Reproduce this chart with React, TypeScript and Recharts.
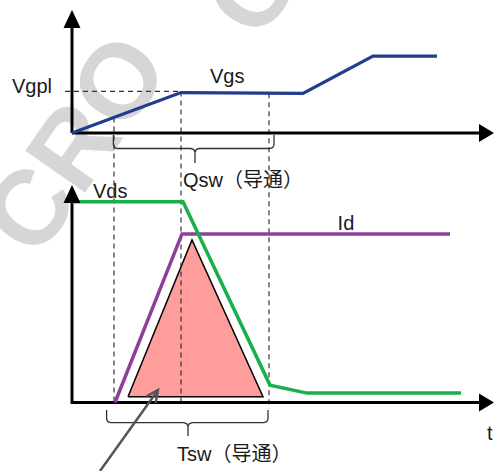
import React from 'react';
import { ComposedChart, Line, Area, XAxis, YAxis, ReferenceLine, ReferenceDot } from 'recharts';

// ---- data (time units, gate volts, drain units) ----
const VGS_T = [0, 5.45, 11.55, 15.05, 18.25];
const VGS_V = [0, 5.05, 4.95, 9.6, 9.6];
const VDS_T = [0, 5.55, 9.9, 11.75, 19.45];
const VDS_V = [10.04, 10.04, 0.87, 0.47, 0.47];
const ID_T = [2.15, 5.5, 18.9];
const ID_V = [0, 8.43, 8.43];
const LOSS_T = [2.8, 6.0, 9.55];
const LOSS_V = [0.29, 8.13, 0.29];
const MARK_T = [2.1, 5.45, 9.85];
const MARK_BOTTOM = [0, 0, -0.3];
const VGPL = 5.2;

// ---- chart geometry ----
const W = 494;
const H = 471;
const X_DOMAIN = [-3.6, 21.1];
const VG_DOMAIN = [-42.25, 16.625];
const VD_DOMAIN = [-3.425, 20.125];

const FONT = "'Liberation Sans', Arial, 'Noto Sans CJK SC', sans-serif";
const C_VGS = '#223c8e';
const C_VDS = '#19b04b';
const C_ID = '#8e3f9e';
const C_LOSS = '#ff9c9c';
const C_DASH = '#333333';

const zip = (xs: number[], ys: number[]) => xs.map((x, i) => ({ x, y: ys[i] }));
const vgsData = zip(VGS_T, VGS_V);
const vdsData = zip(VDS_T, VDS_V);
const idData = zip(ID_T, ID_V);
const lossData = zip(LOSS_T, LOSS_V);
const lossOutline = [...lossData, lossData[0]];

const interp = (xs: number[], ys: number[], t: number) => {
  for (let i = 0; i < xs.length - 1; i++) {
    if (t >= xs[i] && t <= xs[i + 1]) {
      return ys[i] + ((ys[i + 1] - ys[i]) * (t - xs[i])) / (xs[i + 1] - xs[i]);
    }
  }
  return ys[ys.length - 1];
};
// convert a value on the drain axis into gate-axis units (same pixel row)
const vdToVg = (vd: number) =>
  VG_DOMAIN[1] - ((VD_DOMAIN[1] - vd) / (VD_DOMAIN[1] - VD_DOMAIN[0])) * (VG_DOMAIN[1] - VG_DOMAIN[0]);

// curly brace built in data units
const brace = (t0: number, t1: number, tc: number, yTop: number, yH: number, yStem: number, rx: number, ry: number) => {
  const left = [
    { x: t0, y: yTop },
    { x: t0, y: yH + ry },
    { x: t0 + rx * 0.3, y: yH + ry * 0.3 },
    { x: t0 + rx, y: yH },
    { x: tc - rx, y: yH },
    { x: tc - rx * 0.3, y: yH - ry * 0.3 },
    { x: tc, y: yH - ry },
    { x: tc, y: yStem },
  ];
  const right = [
    { x: t1, y: yTop },
    { x: t1, y: yH + ry },
    { x: t1 - rx * 0.3, y: yH + ry * 0.3 },
    { x: t1 - rx, y: yH },
    { x: tc + rx, y: yH },
    { x: tc + rx * 0.3, y: yH - ry * 0.3 },
    { x: tc, y: yH - ry },
  ];
  return { left, right };
};
const braceTop = brace(2.07, 10.1, 6.15, -0.25, -1.94, -3.75, 0.2, 0.45);
const braceBot = brace(1.73, 9.8, 5.8, -0.375, -1.01, -1.675, 0.2, 0.18);

const upArrow = (p: any) => (
  <polygon points={`${p.cx},${p.cy} ${p.cx - 8.5},${p.cy + 18} ${p.cx + 8.5},${p.cy + 18}`} fill="#000" />
);
const rightArrow = (p: any) => (
  <polygon points={`${p.cx},${p.cy} ${p.cx - 15},${p.cy - 9} ${p.cx - 15},${p.cy + 9}`} fill="#000" />
);
const pointerHead = (p: any) => {
  const ang = Math.atan2(80, -58); // direction from tip back to tail (screen)
  const len = 13;
  const a1 = ang + 0.45;
  const a2 = ang - 0.45;
  return (
    <polyline
      points={`${p.cx + len * Math.cos(a1)},${p.cy + len * Math.sin(a1)} ${p.cx},${p.cy} ${p.cx + len * Math.cos(a2)},${p.cy + len * Math.sin(a2)}`}
      fill="none"
      stroke="#555"
      strokeWidth={2.5}
    />
  );
};
const textShape = (label: string) => (p: any) => (
  <text x={p.cx} y={p.cy} fontSize={20} fontFamily={FONT} fill="#1a1a1a" textAnchor="start">
    {label}
  </text>
);

const TOP_LABELS = [
  { text: 'Vgpl', t: -3.0, v: 4.96 },
  { text: 'Vgs', t: 6.9, v: 6.21 },
  { text: 'Qsw（导通）', t: 5.55, v: -6.75 },
];
const BOT_LABELS = [
  { text: 'Vds', t: 1.05, v: 10.22 },
  { text: 'Id', t: 13.28, v: 8.62 },
  { text: 't', t: 20.75, v: -1.875 },
  { text: 'Tsw（导通）', t: 5.25, v: -2.93 },
];

const lineProps = { type: 'linear' as const, dot: false, activeDot: false, isAnimationActive: false };

export default function App() {
  return (
    <div style={{ position: 'absolute', left: 0, top: 0, width: W, height: H, background: '#fff', overflow: 'hidden' }}>
      <svg width={W} height={H} style={{ position: 'absolute', left: 0, top: 0 }}>
        <text
          x={37}
          y={261}
          transform="rotate(-55 37 261)"
          fontSize={106}
          fontWeight="bold"
          fontFamily={FONT}
          fill="#d6d6d6"
        >
          CRO
        </text>
        <text
          x={0}
          y={0}
          transform="translate(252 -12) rotate(-55)"
          fontSize={106}
          fontWeight="bold"
          fontFamily={FONT}
          fill="#d6d6d6"
          textAnchor="middle"
          dominantBaseline="central"
        >
          O
        </text>
      </svg>
      <div style={{ position: 'absolute', left: 0, top: 0 }}>
        <ComposedChart width={W} height={H} margin={{ top: 0, right: 0, bottom: 0, left: 0 }}>
          <XAxis type="number" dataKey="x" domain={X_DOMAIN} allowDataOverflow hide />
          <YAxis yAxisId="vg" type="number" domain={VG_DOMAIN} allowDataOverflow hide />
          <YAxis yAxisId="vd" type="number" domain={VD_DOMAIN} allowDataOverflow hide />

          {/* switching loss triangle */}
          <Area
            yAxisId="vd"
            data={lossData}
            dataKey="y"
            type="linear"
            baseValue={LOSS_V[0]}
            fill={C_LOSS}
            fillOpacity={1}
            stroke="none"
            dot={false}
            activeDot={false}
            isAnimationActive={false}
          />
          <Line yAxisId="vd" data={lossOutline} dataKey="y" stroke="#000" strokeWidth={1.5} {...lineProps} />

          {/* dashed guides */}
          <ReferenceLine
            yAxisId="vg"
            segment={[{ x: -0.35, y: VGPL }, { x: MARK_T[1], y: VGPL }]}
            stroke={C_DASH}
            strokeWidth={1.2}
            strokeDasharray="5 4"
            ifOverflow="visible"
          />
          {MARK_T.map((t, i) => (
            <ReferenceLine
              key={'m' + i}
              yAxisId="vg"
              segment={[
                { x: t, y: i === 1 ? VGPL : interp(VGS_T, VGS_V, t) },
                { x: t, y: vdToVg(MARK_BOTTOM[i]) },
              ]}
              stroke={C_DASH}
              strokeWidth={1.2}
              strokeDasharray="5 4"
              ifOverflow="visible"
            />
          ))}

          {/* axes */}
          <ReferenceLine yAxisId="vg" segment={[{ x: 0, y: 0 }, { x: 0, y: 14.4 }]} stroke="#000" strokeWidth={3} ifOverflow="visible" />
          <ReferenceLine yAxisId="vg" segment={[{ x: 0, y: 0 }, { x: 20.5, y: 0 }]} stroke="#000" strokeWidth={3} ifOverflow="visible" />
          <ReferenceDot yAxisId="vg" x={0} y={15.375} r={1} shape={upArrow} ifOverflow="visible" />
          <ReferenceDot yAxisId="vg" x={21.1} y={0} r={1} shape={rightArrow} ifOverflow="visible" />
          <ReferenceLine yAxisId="vd" segment={[{ x: 0, y: -0.07 }, { x: 0, y: 10.4 }]} stroke="#000" strokeWidth={3} ifOverflow="visible" />
          <ReferenceLine yAxisId="vd" segment={[{ x: 0, y: 0 }, { x: 20.5, y: 0 }]} stroke="#000" strokeWidth={3} ifOverflow="visible" />
          <ReferenceDot yAxisId="vd" x={0} y={10.875} r={1} shape={upArrow} ifOverflow="visible" />
          <ReferenceDot yAxisId="vd" x={21.1} y={0} r={1} shape={rightArrow} ifOverflow="visible" />

          {/* braces */}
          {[braceTop.left, braceTop.right].map((d, i) => (
            <Line key={'bt' + i} yAxisId="vg" data={d} dataKey="y" stroke="#333" strokeWidth={1.3} {...lineProps} />
          ))}
          {[braceBot.left, braceBot.right].map((d, i) => (
            <Line key={'bb' + i} yAxisId="vd" data={d} dataKey="y" stroke="#333" strokeWidth={1.3} {...lineProps} />
          ))}

          {/* waveforms */}
          <Line yAxisId="vd" data={idData} dataKey="y" stroke={C_ID} strokeWidth={3.5} {...lineProps} />
          <Line yAxisId="vd" data={vdsData} dataKey="y" stroke={C_VDS} strokeWidth={3.5} {...lineProps} />
          <Line yAxisId="vg" data={vgsData} dataKey="y" stroke={C_VGS} strokeWidth={3.2} {...lineProps} />

          {/* pointer arrow */}
          <ReferenceLine
            yAxisId="vd"
            segment={[{ x: 1.4, y: -3.425 }, { x: 4.3, y: 0.62 }]}
            stroke="#555"
            strokeWidth={2.5}
            ifOverflow="visible"
          />
          <ReferenceDot yAxisId="vd" x={4.3} y={0.62} r={1} shape={pointerHead} ifOverflow="visible" />

          {/* labels */}
          {TOP_LABELS.map((l) => (
            <ReferenceDot key={l.text} yAxisId="vg" x={l.t} y={l.v} r={1} shape={textShape(l.text)} ifOverflow="visible" />
          ))}
          {BOT_LABELS.map((l) => (
            <ReferenceDot key={l.text} yAxisId="vd" x={l.t} y={l.v} r={1} shape={textShape(l.text)} ifOverflow="visible" />
          ))}
        </ComposedChart>
      </div>
    </div>
  );
}
